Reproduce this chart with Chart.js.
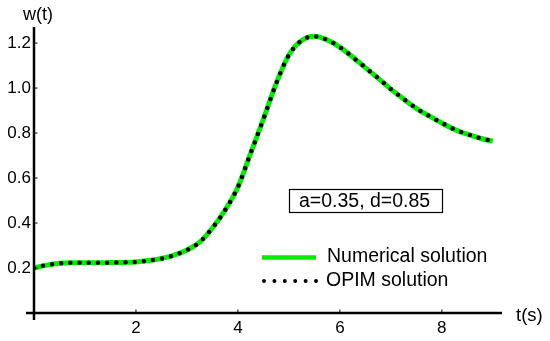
<!DOCTYPE html>
<html>
<head>
<meta charset="utf-8">
<script src="https://cdn.jsdelivr.net/npm/chart.js@4/dist/chart.umd.min.js"></script>
<style>
  html, body { margin: 0; padding: 0; background: #fff; }
  #wrap { width: 550px; height: 341px; position: relative; }
</style>
</head>
<body>
<div id="wrap"><canvas id="c" width="550" height="341"></canvas></div>
<script>
// ---- data ----
const tValues = [0, 0.25, 0.5, 0.75, 1.0, 1.25, 1.5, 1.75, 2.0, 2.25, 2.5, 2.75, 3.0, 3.25, 3.5, 3.75,
                 4.0, 4.25, 4.5, 4.75, 5.0, 5.25, 5.5, 5.75, 6.0, 6.25, 6.5, 6.75, 7.0, 7.25, 7.5, 7.75,
                 8.0, 8.25, 8.5, 8.75, 9.0];
const numericalSolution = [0.200, 0.213, 0.221, 0.223, 0.223, 0.223, 0.224, 0.225, 0.227, 0.233, 0.242, 0.257,
                 0.280, 0.315, 0.378, 0.458, 0.560, 0.711, 0.862, 1.020, 1.147, 1.211, 1.230, 1.214,
                 1.182, 1.138, 1.091, 1.044, 0.995, 0.951, 0.910, 0.876, 0.845, 0.816, 0.795, 0.777, 0.764];
const opimSolution = [0.200, 0.213, 0.221, 0.223, 0.223, 0.223, 0.224, 0.225, 0.227, 0.233, 0.242, 0.257,
                 0.280, 0.315, 0.378, 0.458, 0.560, 0.711, 0.862, 1.020, 1.147, 1.211, 1.230, 1.214,
                 1.182, 1.138, 1.091, 1.044, 0.995, 0.951, 0.910, 0.876, 0.845, 0.816, 0.795, 0.777, 0.764];
const xTickLabels = [2, 4, 6, 8];
const yTickLabels = [0.2, 0.4, 0.6, 0.8, 1.0, 1.2];
const seriesNames = ['Numerical solution', 'OPIM solution'];
const xAxisTitle = 't(s)';
const yAxisTitle = 'w(t)';
const annotationText = 'a=0.35, d=0.85';

// ---- styles ----
const FONT = '"Liberation Sans", Arial, Helvetica, sans-serif';
const GREEN = '#00ee00';

const overlay = {
  id: 'overlay',
  afterDraw(chart) {
    const ctx = chart.ctx;
    const xs = chart.scales.x, ys = chart.scales.y;
    const x0 = xs.getPixelForValue(0), y0 = ys.getPixelForValue(0);
    const ca = chart.chartArea;
    ctx.save();
    // axes
    ctx.strokeStyle = '#000';
    ctx.lineWidth = 2.5;
    ctx.beginPath();
    ctx.moveTo(x0, ca.top - 1); ctx.lineTo(x0, y0 + 7);
    ctx.moveTo(x0 - 8, y0); ctx.lineTo(ca.right, y0);
    ctx.stroke();
    // small inward ticks
    ctx.lineWidth = 1;
    ctx.beginPath();
    xTickLabels.forEach(v => { const p = xs.getPixelForValue(v); ctx.moveTo(p, y0); ctx.lineTo(p, y0 - 3.5); });
    yTickLabels.forEach(v => { const p = ys.getPixelForValue(v); ctx.moveTo(x0, p); ctx.lineTo(x0 + 3.5, p); });
    ctx.stroke();
    // axis titles
    ctx.fillStyle = '#000';
    ctx.textBaseline = 'middle';
    ctx.textAlign = 'left';
    ctx.font = '18px ' + FONT;
    ctx.fillText(yAxisTitle, 23, 15);
    ctx.font = '18.5px ' + FONT;
    ctx.fillText(xAxisTitle, 516, 316);
    // annotation box
    ctx.lineWidth = 1.2;
    ctx.strokeRect(289.5, 189.5, 153, 23);
    ctx.font = '19.5px ' + FONT;
    ctx.fillText(annotationText, 299, 202);
    // legend
    ctx.strokeStyle = GREEN;
    ctx.lineWidth = 4.5;
    ctx.beginPath(); ctx.moveTo(262, 257.5); ctx.lineTo(316, 257.5); ctx.stroke();
    ctx.strokeStyle = '#000';
    ctx.lineCap = 'round';
    ctx.lineWidth = 4;
    ctx.setLineDash([0, 10.4]);
    ctx.beginPath(); ctx.moveTo(264, 281); ctx.lineTo(317, 281); ctx.stroke();
    ctx.setLineDash([]);
    ctx.fillText(seriesNames[0], 327, 257);
    ctx.fillText(seriesNames[1], 326, 281);
    ctx.restore();
  }
};

new Chart(document.getElementById('c'), {
  type: 'line',
  data: {
    datasets: [
      {
        label: seriesNames[0],
        data: tValues.map((t, i) => ({ x: t, y: numericalSolution[i] })),
        borderColor: GREEN,
        borderWidth: 5,
        pointRadius: 0,
        cubicInterpolationMode: 'monotone',
        order: 1
      },
      {
        label: seriesNames[1],
        data: tValues.map((t, i) => ({ x: t, y: opimSolution[i] })),
        borderColor: '#000',
        borderWidth: 4.5,
        borderDash: [0, 9.2],
        borderCapStyle: 'round',
        pointRadius: 0,
        cubicInterpolationMode: 'monotone',
        order: 0
      }
    ]
  },
  options: {
    responsive: false,
    animation: false,
    events: [],
    layout: { padding: { top: 28, right: 48, left: 0, bottom: 0 } },
    plugins: { legend: { display: false }, tooltip: { enabled: false } },
    scales: {
      x: {
        type: 'linear',
        min: 0,
        max: 9.18,
        afterBuildTicks: s => { s.ticks = xTickLabels.map(v => ({ value: v })); },
        afterFit: s => { s.height = 28; },
        grid: { display: false, drawTicks: false },
        border: { display: false },
        ticks: { padding: 5, color: '#000', font: { family: FONT, size: 17 }, maxRotation: 0 }
      },
      y: {
        type: 'linear',
        min: 0,
        max: 1.267,
        afterBuildTicks: s => { s.ticks = yTickLabels.map(v => ({ value: v })); },
        afterFit: s => { s.width = 34; },
        grid: { display: false, drawTicks: false },
        border: { display: false },
        ticks: { padding: 3, color: '#000', font: { family: FONT, size: 17 },
                 callback: v => v.toFixed(1) }
      }
    }
  },
  plugins: [overlay]
});
</script>
</body>
</html>
